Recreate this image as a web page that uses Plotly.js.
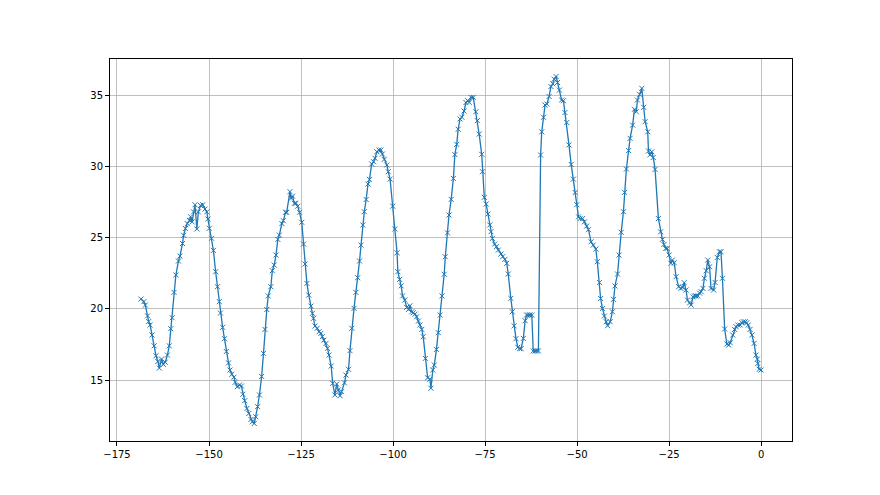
<!DOCTYPE html>
<html>
<head>
<meta charset="utf-8">
<script src="https://cdn.plot.ly/plotly-3.0.1.min.js"></script>
<style>html,body{margin:0;padding:0;background:#fff;}</style>
</head>
<body>
<div id="chart" style="width:880px;height:495px;"></div>
<script>
const xValues = [
-168.5,-167.7,-167.3,-166.7,-166.4,-166.0,-165.5,-164.9,-164.4,-163.9,-163.5,-162.9,-162.4,-161.9,-161.3,-160.8,-160.4,-160.0,-159.5,-159.0,-158.3,-157.9,-157.2,-156.9,-156.4,-155.9,-155.3,-155.0,-154.6,-154.2,-153.8,-153.3,-152.9,
-152.3,-151.7,-151.1,-150.6,-150.3,-149.9,-149.3,-148.8,-148.2,-147.7,-147.2,-146.9,-146.3,-145.8,-145.3,-144.7,-144.3,-143.8,-143.2,-142.9,-142.3,-141.7,-141.2,-140.8,-140.3,-139.7,-139.2,-138.6,-138.2,-137.7,-137.3,-136.8,-136.3,-135.7,-135.2,
-134.8,-134.3,-133.9,-133.2,-132.8,-132.3,-131.8,-131.3,-130.9,-130.2,-129.8,-129.2,-128.9,-128.0,-127.7,-127.3,-126.8,-126.4,-125.9,-125.4,-124.8,-124.3,-123.9,-123.4,-122.9,-122.3,-121.9,-121.6,-121.2,-120.6,-120.1,-119.6,-119.2,-118.8,-118.2,-117.8,-117.4,
-116.8,-116.4,-115.8,-115.3,-114.9,-114.4,-114.0,-113.2,-112.8,-112.1,-111.7,-111.2,-110.6,-110.1,-109.6,-109.1,-108.7,-108.2,-107.8,-107.3,-106.8,-106.4,-105.8,-105.3,-104.9,-104.4,-103.8,-103.3,-102.9,-102.4,-101.7,-101.3,-100.8,-100.1,-99.5,
-98.9,-98.7,-98.2,-97.8,-97.4,-96.8,-96.3,-95.8,-95.4,-94.9,-94.5,-94.0,-93.6,-93.1,-92.7,-92.2,-91.8,-91.2,-90.6,-90.0,-89.7,-89.2,-88.8,-88.2,-87.7,-87.2,-86.7,-86.1,-85.8,-85.2,-84.8,-84.2,-83.6,-83.2,
-82.7,-82.3,-81.8,-81.3,-80.7,-80.2,-79.7,-79.3,-78.8,-78.2,-77.5,-77.1,-76.6,-75.9,-75.7,-75.2,-74.7,-74.2,-73.7,-73.4,-73.0,-72.4,-71.9,-71.4,-70.7,-70.2,-69.6,-69.1,-68.7,-68.0,-67.6,
-67.1,-66.6,-66.1,-65.6,
-65.2,-64.6,-64.1,-63.7,-63.2,-62.8,-62.3,-61.9,-61.4,-61.0,-60.5,-59.9,-59.6,-59.1,-58.7,-58.2,-57.6,-57.1,-56.6,-56.2,-55.7,-55.3,-54.8,-54.2,-53.7,-53.3,-52.8,-52.2,-51.6,-51.0,-50.5,-50.1,-49.6,-49.2,-48.5,-48.0,-47.4,-46.9,
-46.2,-45.6,-44.9,-44.5,-43.9,-43.6,-43.1,-42.6,-42.1,-41.7,-41.0,-40.4,-40.1,-39.7,-39.0,-38.6,-38.0,-37.4,-37.1,-36.6,-36.0,-35.6,-34.9,-34.4,-33.9,-33.6,-33.0,-32.4,-31.9,-31.5,-30.8,-30.6,-30.2,-29.7,-29.3,-28.8,
-27.9,-27.3,-26.8,-26.4,-25.9,-25.5,-25.0,-24.5,-24.1,-23.6,-23.1,-22.4,-21.8,-21.3,-20.9,-20.4,-20.0,-19.4,-19.0,-18.5,-18.1,-17.7,-17.2,-16.7,-16.3,-15.8,-15.4,-14.9,-14.5,-14.0,-13.6,-12.9,-12.5,-11.9,-11.3,-10.9,-10.5,-9.9,-9.3,-8.8,-8.4,-7.7,-7.2,-6.8,-6.3,-5.7,-5.2,-4.8,-4.3,-3.9,-3.5,-3.0,-2.5,-1.9,-1.4,-1.0,-0.9,-0.5,0.0
];
const yValues = [
20.68,20.5,20.26,19.5,19.1,18.86,18.16,17.4,16.7,16.3,15.84,16.47,16.1,16.25,16.75,17.4,18.6,19.37,21.15,22.37,23.35,23.7,24.58,25.16,25.63,25.98,26.2,26.45,26.1,26.8,27.3,25.6,26.8,
27.25,27.3,27.0,26.8,26.3,25.65,24.95,24.1,22.6,21.55,20.5,19.7,18.7,17.9,17.0,16.2,15.7,15.4,15.2,14.84,14.53,14.65,14.58,14.0,13.55,13.0,12.65,12.23,12.07,11.95,12.42,13.13,13.95,15.25,16.87,
18.55,19.95,20.9,21.55,22.67,23.07,23.77,24.87,25.17,25.98,26.18,26.77,26.77,28.22,27.75,27.9,27.4,27.4,27.2,26.77,26.07,24.54,23.14,21.78,20.96,20.19,19.68,19.33,18.79,18.63,18.39,18.27,18.04,17.8,17.57,17.22,16.75,
15.98,14.77,13.95,14.72,14.3,13.9,14.18,14.8,15.35,15.75,17.06,18.63,20.03,21.15,22.18,23.35,24.47,25.88,26.81,27.67,28.75,29.08,30.16,30.32,30.56,31.02,31.14,31.14,30.86,30.48,30.09,29.62,29.1,27.2,25.6,
23.93,22.6,22.06,21.61,20.9,20.61,20.1,19.95,20.21,19.79,19.72,19.63,19.44,19.14,18.86,18.55,18.04,16.52,15.16,15.05,14.42,15.7,16.05,17.15,18.32,19.56,20.9,22.42,23.65,25.33,26.58,27.68,29.15,30.82,
31.54,32.6,33.32,33.44,33.88,34.47,34.61,34.49,34.84,34.84,33.83,33.2,32.26,30.84,29.62,27.82,27.35,26.65,25.88,25.41,24.94,24.54,24.36,24.12,23.84,23.66,23.47,23.19,22.44,20.73,19.79,
18.8,17.9,17.3,17.2,
17.2,17.92,19.16,19.56,19.56,19.56,19.56,17.04,17.04,17.04,17.04,30.79,32.42,33.44,34.3,34.37,34.9,35.6,35.79,36.12,36.3,35.88,35.35,34.65,34.6,33.77,33.07,31.5,30.13,29.1,28.16,27.3,26.45,26.33,26.33,26.1,25.8,25.55,
24.7,24.47,24.19,23.3,21.84,20.72,20.02,19.49,19.09,18.81,19.09,19.79,20.66,21.6,22.44,23.77,25.37,26.81,28.17,29.81,31.1,31.96,32.89,34.0,33.83,34.65,35.05,35.47,34.14,33.13,32.42,31.07,30.8,31.02,30.62,29.78,
26.33,25.4,24.87,24.51,24.23,24.23,23.77,23.19,23.42,23.23,22.25,21.55,21.43,21.5,21.83,21.32,20.61,20.42,20.26,20.84,20.9,20.9,20.9,21.1,21.2,21.43,22.14,22.67,23.42,22.95,21.43,21.32,21.85,23.6,24.0,24.0,22.14,18.58,17.53,17.46,17.62,18.16,18.55,18.74,18.86,18.86,19.02,19.09,19.09,19.02,18.86,18.55,18.16,17.57,16.75,16.47,16.16,15.75,15.7
];
const xTicks = [-175,-150,-125,-100,-75,-50,-25,0];
const yTicks = [15,20,25,30,35];

const color = '#1f77b4';
const trace = {
  x: xValues, y: yValues, type: 'scatter', mode: 'lines+markers',
  line: {color: color, width: 1.3},
  marker: {symbol: 'x-thin', size: 5, color: color, line: {color: color, width: 1}},
  hoverinfo: 'skip'
};
const axisBase = {
  showline: true, mirror: true, linecolor: '#000', linewidth: 1,
  ticks: 'outside', ticklen: 4, tickwidth: 1, tickcolor: '#000',
  showgrid: true, gridcolor: '#b0b0b0', gridwidth: 0.8, zeroline: false,
  tickfont: {family: 'DejaVu Sans', size: 10, color: '#000'}
};
const layout = {
  width: 880, height: 495,
  margin: {l: 110, r: 88, t: 59, b: 54, pad: 0},
  paper_bgcolor: '#fff', plot_bgcolor: '#fff',
  showlegend: false,
  xaxis: Object.assign({}, axisBase, {range: [-176.9, 8.4], tickmode: 'array', tickvals: xTicks, ticktext: xTicks.map(v => v < 0 ? '\u2212' + Math.abs(v) : String(v))}),
  yaxis: Object.assign({}, axisBase, {range: [10.72, 37.53], tickmode: 'array', tickvals: yTicks, ticktext: yTicks.map(String)})
};
Plotly.newPlot('chart', [trace], layout, {staticPlot: true, displayModeBar: false});
</script>
</body>
</html>
